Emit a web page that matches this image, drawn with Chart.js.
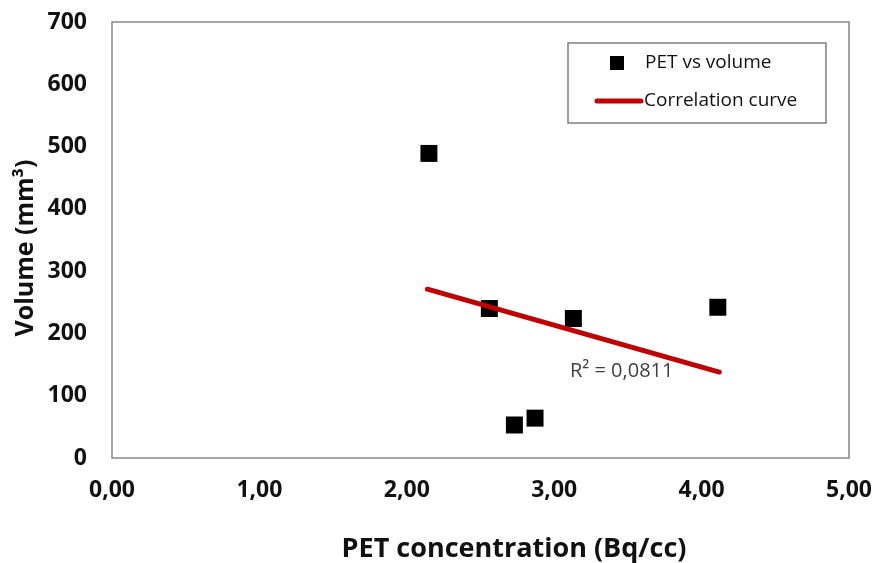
<!DOCTYPE html>
<html>
<head>
<meta charset="utf-8">
<script src="https://cdn.jsdelivr.net/npm/chart.js@4.4.0/dist/chart.umd.min.js"></script>
<style>
  html, body { margin: 0; padding: 0; background: #fff; }
  #wrap { width: 875px; height: 563px; }
</style>
</head>
<body>
<div id="wrap"><canvas id="chart" width="875" height="563"></canvas></div>
<script>
// values
const petConcentration = [2.15, 2.56, 2.73, 2.87, 3.13, 4.11];
const volumes = [489, 240, 53, 64, 224, 242];
const fitX = [2.14, 4.12];
const fitY = [271, 138];
const xTicks = [0, 1, 2, 3, 4, 5];
const yTicks = [0, 100, 200, 300, 400, 500, 600, 700];
const seriesLabels = ['PET vs volume', 'Correlation curve'];
const rSquaredText = 'R\u00B2 = 0,0811';
const xTitle = 'PET concentration (Bq/cc)';
const yTitle = 'Volume (mm\u00B3)';

const FONT = "'Open Sans', sans-serif";
const TEXT = '#111';
const RED = '#c00000';

const scatterPoints = petConcentration.map((x, i) => ({ x: x, y: volumes[i] }));
const fitPoints = fitX.map((x, i) => ({ x: x, y: fitY[i] }));

// border, legend box, R2 label and axis titles
const decorations = {
    id: 'decorations',
    afterDraw(chart) {
        const ctx = chart.ctx;
        const a = chart.chartArea;
        ctx.save();

        ctx.strokeStyle = '#868686';
        ctx.lineWidth = 1.5;
        ctx.strokeRect(a.left, a.top, a.right - a.left, a.bottom - a.top);

        // legend
        ctx.fillStyle = '#fff';
        ctx.fillRect(568, 43, 258, 80);
        ctx.strokeStyle = '#7f7f7f';
        ctx.strokeRect(568, 43, 258, 80);
        ctx.fillStyle = '#000';
        ctx.fillRect(610, 56, 14, 14);
        ctx.strokeStyle = RED;
        ctx.lineWidth = 5;
        ctx.lineCap = 'round';
        ctx.beginPath();
        ctx.moveTo(597, 101);
        ctx.lineTo(641, 101);
        ctx.stroke();
        ctx.font = '19px ' + FONT;
        ctx.fillStyle = TEXT;
        ctx.textBaseline = 'middle';
        ctx.textAlign = 'left';
        ctx.fillText(seriesLabels[0], 645, 63);
        ctx.fillText(seriesLabels[1], 644, 101);

        // R2 label
        ctx.font = '20px ' + FONT;
        ctx.fillStyle = '#404040';
        ctx.fillText(rSquaredText, 570, 371);

        // axis titles
        ctx.fillStyle = TEXT;
        ctx.font = 'bold 27px ' + FONT;
        ctx.textAlign = 'center';
        ctx.fillText(xTitle, 514, 549);
        ctx.font = 'bold 25px ' + FONT;
        ctx.translate(26, 248);
        ctx.rotate(-Math.PI / 2);
        ctx.fillText(yTitle, 0, 0);

        ctx.restore();
    }
};

new Chart(document.getElementById('chart').getContext('2d'), {
    type: 'scatter',
    data: {
        datasets: [
            {
                type: 'line',
                label: seriesLabels[1],
                data: fitPoints,
                borderColor: RED,
                borderWidth: 5,
                borderCapStyle: 'round',
                pointRadius: 0,
                fill: false,
                order: 0,
            },
            {
                label: seriesLabels[0],
                data: scatterPoints,
                pointStyle: 'rect',
                pointRadius: 12,
                pointHoverRadius: 12,
                backgroundColor: '#000',
                borderColor: '#000',
                borderWidth: 0,
                order: 1,
            },
        ],
    },
    options: {
        responsive: false,
        animation: false,
        events: [],
        layout: { padding: { left: 0, top: 22, right: 26, bottom: 0 } },
        plugins: {
            legend: { display: false },
            tooltip: { enabled: false },
        },
        scales: {
            x: {
                type: 'linear',
                min: 0,
                max: 5,
                afterBuildTicks: (scale) => { scale.ticks = xTicks.map((v) => ({ value: v })); },
                afterFit: (scale) => {
                    scale.height = 105;
                    scale.paddingLeft = 0;
                    scale.paddingRight = 0;
                },
                ticks: {
                    padding: 19,
                    color: TEXT,
                    font: { family: FONT, size: 23, weight: 'bold' },
                    callback: (v) => v.toFixed(2).replace('.', ','),
                },
                grid: { display: false, drawTicks: false },
                border: { display: false },
            },
            y: {
                type: 'linear',
                min: 0,
                max: 700,
                afterBuildTicks: (scale) => { scale.ticks = yTicks.map((v) => ({ value: v })); },
                afterFit: (scale) => {
                    scale.width = 112;
                    scale.paddingTop = 0;
                    scale.paddingBottom = 0;
                },
                ticks: {
                    padding: 25,
                    color: TEXT,
                    font: { family: FONT, size: 23, weight: 'bold' },
                },
                grid: { display: false, drawTicks: false },
                border: { display: false },
            },
        },
    },
    plugins: [decorations],
});
</script>
</body>
</html>
